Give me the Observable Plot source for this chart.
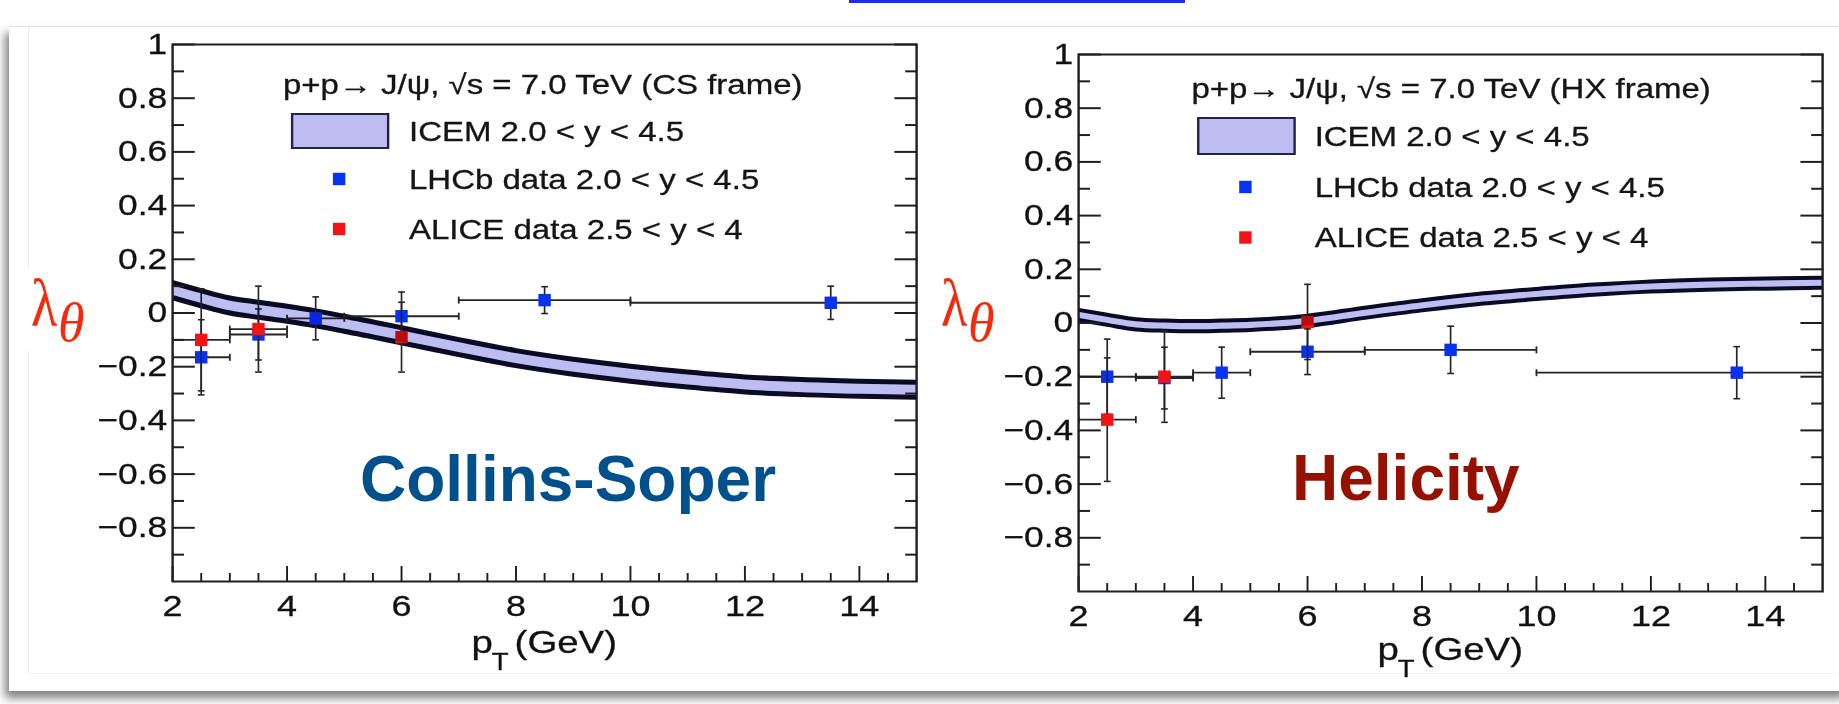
<!DOCTYPE html>
<html>
<head>
<meta charset="utf-8">
<script src="https://cdn.jsdelivr.net/npm/d3@7"></script>
<script src="https://cdn.jsdelivr.net/npm/@observablehq/plot@0.6"></script>
<style>
  html, body { margin: 0; padding: 0; background: #fff; width: 1839px; height: 704px; overflow: hidden; position: relative; }
  #card { position: absolute; left: 9px; top: 26px; width: 1840px; height: 664px; background: #fff;
          border-top: 1px solid #e2e2e2; box-shadow: -4px 7px 9px rgba(0,0,0,0.5); }
  #inner { position: absolute; left: 28px; top: 27px; width: 1808px; height: 646px; border-left: 1px solid #eeeeee; border-bottom: 1px solid #f2f2f2; }
  #link { position: absolute; left: 849px; top: 0; width: 336px; height: 3px; background: #1b2ff0; }
  .panel { position: absolute; transform-origin: 0 0; transform: scaleX(1.2); }
  .panel svg text { stroke: #111; stroke-width: 0.3px; }
  .panel svg g[aria-label="area"] { mix-blend-mode: multiply; }
  #overlay { position: absolute; left: 0; top: 0; pointer-events: none; }
</style>
</head>
<body>
<div id="card"></div>
<div id="inner"></div>
<div id="link"></div>
<div id="left" class="panel" style="left:39.5px; top:23.5px;"></div>
<div id="right" class="panel" style="left:946px; top:33.5px;"></div>
<svg id="overlay" width="1839" height="704">
  <rect x="24" y="268" width="70" height="82" fill="#fff"></rect>
  <g font-family="Liberation Serif, Times New Roman, serif" fill="#f42a0c">
    <text transform="translate(31,326) scale(0.8,1)" font-size="68">λ</text>
    <text x="58" y="341" font-style="italic" font-size="54">θ</text>
    <text transform="translate(941,326) scale(0.8,1)" font-size="68">λ</text>
    <text x="968" y="341" font-style="italic" font-size="54">θ</text>
  </g>
  <text x="360" y="500.7" font-family="Liberation Sans, Arial, sans-serif" font-weight="bold" font-size="64" fill="#00508c">Collins-Soper</text>
  <text x="1292" y="500" font-family="Liberation Sans, Arial, sans-serif" font-weight="bold" font-size="64" fill="#941100">Helicity</text>
</svg>
<script>
// ---------------- data ----------------
const ptGrid = [2, 2.5, 3, 3.5, 4, 4.5, 5, 6, 7, 8, 9, 10, 11, 12, 13, 14, 15];
// ICEM band, Collins-Soper frame
const icemCsLow  = [0.057, 0.027, 0.000, -0.016, -0.031, -0.048, -0.068, -0.111, -0.155, -0.196, -0.228, -0.254, -0.276, -0.294, -0.304, -0.310, -0.314];
const icemCsHigh = [0.113, 0.083, 0.056, 0.040, 0.025, 0.008, -0.012, -0.055, -0.099, -0.140, -0.172, -0.198, -0.220, -0.238, -0.248, -0.254, -0.258];
// ICEM band, helicity frame
const icemHxLow  = [0.011, -0.007, -0.024, -0.029, -0.031, -0.029, -0.026, -0.011, 0.019, 0.047, 0.071, 0.089, 0.105, 0.117, 0.124, 0.128, 0.131];
const icemHxHigh = [0.049, 0.031, 0.014, 0.009, 0.007, 0.009, 0.012, 0.027, 0.057, 0.085, 0.109, 0.127, 0.143, 0.155, 0.162, 0.166, 0.169];

// LHCb data 2.0 < y < 4.5
const lhcbPt   = [2.5, 3.5, 4.5, 6, 8.5, 13.5];
const lhcbPtLo = [2, 3, 4, 5, 7, 10];
const lhcbPtHi = [3, 4, 5, 7, 10, 15];
const lhcbCsLambda = [-0.165, -0.08, -0.02, -0.012, 0.048, 0.038];
const lhcbCsError  = [0.14, 0.095, 0.08, 0.09, 0.05, 0.062];
const lhcbHxLambda = [-0.20, -0.205, -0.185, -0.107, -0.10, -0.185];
const lhcbHxError  = [0.14, 0.115, 0.095, 0.085, 0.088, 0.097];

// ALICE data 2.5 < y < 4
const alicePt   = [2.5, 3.5, 6];
const alicePtLo = [2, 3, 6];
const alicePtHi = [3, 4, 6];
const aliceCsLambda = [-0.10, -0.06, -0.09];
const aliceCsError  = [0.19, 0.16, 0.13];
const aliceHxLambda = [-0.36, -0.20, 0.004];
const aliceHxError  = [0.23, 0.17, 0.14];

// axis ticks and texts
const xTickValues = [2, 4, 6, 8, 10, 12, 14];
const xMinorTicks = [2.5, 3, 3.5, 4.5, 5, 5.5, 6.5, 7, 7.5, 8.5, 9, 9.5, 10.5, 11, 11.5, 12.5, 13, 13.5, 14.5];
const yTickValues = [1, 0.8, 0.6, 0.4, 0.2, 0, -0.2, -0.4, -0.6, -0.8];
const yMinorTicks = [0.9, 0.7, 0.5, 0.3, 0.1, -0.1, -0.3, -0.5, -0.7, -0.9];
const headerCS = "p+p\u2192 J/\u03c8, \u221as = 7.0 TeV (CS frame)";
const headerHX = "p+p\u2192 J/\u03c8, \u221as = 7.0 TeV (HX frame)";
const legendLabels = ["ICEM 2.0 < y < 4.5", "LHCb data 2.0 < y < 4.5", "ALICE data 2.5 < y < 4"];

// ---------------- drawing ----------------
const STRETCH = 1.2;
const W = 740, H = 657, ML = 110, MR = 10, MT = 20, MB = 100;
const FW = W - ML - MR, FH = H - MT - MB;
const lhcbColor = "#0832f2", aliceColor = "#f21414";
const bandFill = "#bdbdf2", bandEdge = "#0c0c26", errColor = "#262626", axisColor = "#1e1e1e";
const fmt = d => String(+(+d).toFixed(1)).replace("-", "\u2212");

const box = {draw(ctx, size) { const h = Math.sqrt(size); const w = h / STRETCH; ctx.rect(-w / 2, -h / 2, w, h); }};
const hCap = {draw(ctx, size) { const r = Math.sqrt(size / Math.PI); ctx.moveTo(-r, 0); ctx.lineTo(r, 0); }};
const vCap = {draw(ctx, size) { const r = Math.sqrt(size / Math.PI); ctx.moveTo(0, -r); ctx.lineTo(0, r); }};

function errorMarks(rows, color) {
  const wide = rows.filter(d => d.hi > d.lo);
  return [
    Plot.ruleY(wide, {y: "lam", x1: "lo", x2: "hi", stroke: errColor, strokeWidth: 1.9, clip: true}),
    Plot.dot(wide, {x: "lo", y: "lam", symbol: vCap, r: 3.5, stroke: errColor, fill: "none", strokeWidth: 1.5, clip: true}),
    Plot.dot(wide.filter(d => d.hi < 15), {x: "hi", y: "lam", symbol: vCap, r: 3.5, stroke: errColor, fill: "none", strokeWidth: 1.5}),
    Plot.ruleX(rows, {x: "pt", y1: d => d.lam - d.err, y2: d => d.lam + d.err, stroke: errColor, strokeWidth: 1.4}),
    Plot.dot(rows, {x: "pt", y: d => d.lam - d.err, symbol: hCap, r: 2.8, stroke: errColor, fill: "none", strokeWidth: 1.6}),
    Plot.dot(rows, {x: "pt", y: d => d.lam + d.err, symbol: hCap, r: 2.8, stroke: errColor, fill: "none", strokeWidth: 1.6}),
    Plot.dot(rows, {x: "pt", y: "lam", symbol: box, r: 7, fill: color, stroke: "none"})
  ];
}

function drawPanel(cfg) {
  const band = ptGrid.map((pt, i) => ({pt, low: cfg.bandLow[i], high: cfg.bandHigh[i]}));
  const lhcb = lhcbPt.map((pt, i) => ({pt, lo: lhcbPtLo[i], hi: lhcbPtHi[i], lam: cfg.lhcbLam[i], err: cfg.lhcbErr[i]}));
  const alice = alicePt.map((pt, i) => ({pt, lo: alicePtLo[i], hi: alicePtHi[i], lam: cfg.aliceLam[i], err: cfg.aliceErr[i]}));
  const L = cfg.legend;
  const txt = {frameAnchor: "top-left", textAnchor: "start", lineAnchor: "bottom", fill: "#151515", text: d => d};
  const svg = Plot.plot({
    width: W, height: H,
    marginLeft: ML, marginRight: MR, marginTop: MT, marginBottom: MB,
    x: {domain: [2, 15], label: null},
    y: {domain: [-1, 1], label: null},
    style: {background: "none", overflow: "visible", fontFamily: "Liberation Sans, Arial, Helvetica, sans-serif"},
    marks: [
      // legend
      Plot.text([cfg.header], {...txt, dx: L.headerX, dy: L.headerY, fontSize: 27.5}),
      Plot.frame({insetLeft: L.swX1, insetRight: FW - L.swX2, insetTop: L.swY1, insetBottom: FH - L.swY2,
                  fill: bandFill, stroke: "#22224a", strokeWidth: 2}),
      ...legendLabels.map((t, i) => Plot.text([t], {...txt, dx: L.textX, dy: L.rowY[i], fontSize: 27.5})),
      Plot.dot([0], {frameAnchor: "top-left", dx: L.markX, dy: L.markY[0], symbol: box, r: 7, fill: lhcbColor, stroke: "none"}),
      Plot.dot([0], {frameAnchor: "top-left", dx: L.markX, dy: L.markY[1], symbol: box, r: 7, fill: aliceColor, stroke: "none"}),
      // ICEM band outline
      Plot.line(band, {x: "pt", y: "high", stroke: bandEdge, strokeWidth: cfg.edge, curve: "monotone-x", clip: true}),
      Plot.line(band, {x: "pt", y: "low", stroke: bandEdge, strokeWidth: cfg.edge, curve: "monotone-x", clip: true}),
      // data points
      ...errorMarks(lhcb, lhcbColor),
      ...errorMarks(alice, aliceColor),
      // ICEM band fill, multiplied over everything below it (blend set in CSS)
      Plot.areaY(band, {x: "pt", y1: "low", y2: "high", fill: bandFill, curve: "monotone-x", clip: true}),
      // frame and axes
      Plot.frame({stroke: axisColor, strokeWidth: 2}),
      Plot.axisY({ticks: yTickValues, tickSize: -19, text: null, label: null, stroke: axisColor, strokeWidth: 2}),
      Plot.axisY({ticks: yMinorTicks, tickSize: -10, text: null, label: null, stroke: axisColor, strokeWidth: 2}),
      Plot.axisY({anchor: "right", ticks: yTickValues, tickSize: -19, text: null, label: null, stroke: axisColor, strokeWidth: 2}),
      Plot.axisY({anchor: "right", ticks: yMinorTicks, tickSize: -10, text: null, label: null, stroke: axisColor, strokeWidth: 2}),
      Plot.axisY({ticks: yTickValues, tickSize: 0, tickPadding: 4.5, fontSize: 29.5, label: null, tickFormat: fmt, color: "#111"}),
      Plot.axisX({ticks: xMinorTicks, tickSize: -8, text: null, label: null, stroke: axisColor, strokeWidth: 1.6}),
      Plot.axisX({ticks: xTickValues, tickSize: -15, text: null, label: null, stroke: axisColor, strokeWidth: 1.6}),
      Plot.axisX({ticks: xTickValues, tickSize: 0, tickPadding: 13, fontSize: 30, label: null, tickFormat: fmt, color: "#111"}),
      // axis title p_T (GeV)
      Plot.text(["p"], {frameAnchor: "bottom", textAnchor: "start", lineAnchor: "bottom", dx: -61, dy: cfg.xLabelY, fontSize: 32, fill: "#111", text: d => d}),
      Plot.text(["T"], {frameAnchor: "bottom", textAnchor: "start", lineAnchor: "bottom", dx: -44, dy: cfg.xLabelY + 17, fontSize: 23, fill: "#111", text: d => d}),
      Plot.text(["(GeV)"], {frameAnchor: "bottom", textAnchor: "start", lineAnchor: "bottom", dx: -25, dy: cfg.xLabelY, fontSize: 32, fill: "#111", text: d => d})
    ]
  });
  d3.select(svg).selectAll('g[aria-label="area"]').style("mix-blend-mode", "multiply");
  return svg;
}

document.getElementById("left").append(drawPanel({
  header: headerCS,
  bandLow: icemCsLow, bandHigh: icemCsHigh, edge: 5,
  lhcbLam: lhcbCsLambda, lhcbErr: lhcbCsError,
  aliceLam: aliceCsLambda, aliceErr: aliceCsError,
  xLabelY: 71,
  legend: {headerX: 92, headerY: 49.5, swX1: 99.6, swX2: 179.6, swY1: 69.5, swY2: 103.5,
           textX: 197, rowY: [96.5, 144.8, 194], markX: 138.75, markY: [134.5, 184.5]}
}));

document.getElementById("right").append(drawPanel({
  header: headerHX,
  bandLow: icemHxLow, bandHigh: icemHxHigh, edge: 4,
  lhcbLam: lhcbHxLambda, lhcbErr: lhcbHxError,
  aliceLam: aliceHxLambda, aliceErr: aliceHxError,
  xLabelY: 68,
  legend: {headerX: 94, headerY: 43.2, swX1: 99.7, swX2: 180, swY1: 63.5, swY2: 99.5,
           textX: 196.7, rowY: [91.5, 142.5, 192.5], markX: 139, markY: [132.5, 183]}
}));
</script>
</body>
</html>
